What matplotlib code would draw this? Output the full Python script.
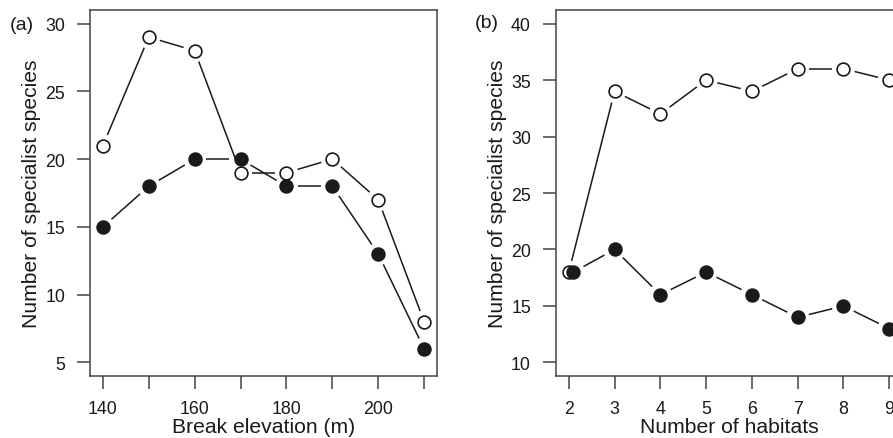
import numpy as np
import matplotlib
matplotlib.use("Agg")
import matplotlib.pyplot as plt

plt.rcParams["font.family"] = ["Liberation Sans", "DejaVu Sans"]

# panel (a) : break elevation
elevation = [140, 150, 160, 170, 180, 190, 200, 210]
a_open = [21, 29, 28, 19, 19, 20, 17, 8]
a_filled = [15, 18, 20, 20, 18, 18, 13, 6]

# panel (b) : number of habitats
habitats = [2, 3, 4, 5, 6, 7, 8, 9]
b_open = [18, 34, 32, 35, 34, 36, 36, 35]
b_filled = [18, 20, 16, 18, 16, 14, 15, 13]

INK = "#1a1a1a"
FRAME = "#444444"
GAP = 11.5   # pixels kept free around each point (R type="b")
MS = 9.2


def r_lim(lo, hi):
    pad = 0.04 * (hi - lo)
    return lo - pad, hi + pad


def type_b(ax, x, y, filled, z):
    """line with gaps around the points, like R plot(type='b')"""
    pts = ax.transData.transform(np.column_stack([x, y]))
    inv = ax.transData.inverted()
    for p, q in zip(pts[:-1], pts[1:]):
        d = q - p
        L = np.hypot(*d)
        if L <= 2 * GAP:
            continue
        u = d / L
        seg = inv.transform(np.array([p + u * GAP, q - u * GAP]))
        ax.plot(seg[:, 0], seg[:, 1], color=INK, lw=1.1, zorder=z,
                solid_capstyle="butt")
    ax.plot(x, y, ls="none", marker="o", ms=MS, mew=1.2, mec=INK,
            mfc=INK if filled else "white", zorder=z + 1)


def style(ax):
    for s in ax.spines.values():
        s.set_color(FRAME)
        s.set_linewidth(1.1)
    ax.tick_params(direction="out", length=9.5, width=1.1, color=FRAME,
                   labelsize=12.8, labelcolor=INK, pad=8.5)
    ax.tick_params(axis="x", pad=7.5)


fig = plt.figure(figsize=(8.93, 4.39), dpi=100)
ax1 = fig.add_axes([0.1008, 0.1412, 0.3886, 0.8337])
ax2 = fig.add_axes([0.6226, 0.1412, 0.3875, 0.8337])

ax1.set_xlim(*r_lim(140, 210))
ax1.set_ylim(*r_lim(5, 30))
ax1.set_xticks([140, 150, 160, 170, 180, 190, 200, 210])
ax1.set_xticklabels(["140", "", "160", "", "180", "", "200", ""])
ax1.set_yticks([5, 10, 15, 20, 25, 30])

ax2.set_xlim(*r_lim(2, 9))
ax2.set_ylim(*r_lim(10, 40))
ax2.set_xticks(habitats)
ax2.set_yticks([10, 15, 20, 25, 30, 35, 40])

for ax in (ax1, ax2):
    style(ax)
    ax.set_ylabel("Number of specialist species", fontsize=15.2,
                  color=INK, labelpad=3)

ax1.set_xlabel("Break elevation (m)", fontsize=15.2, color=INK, labelpad=0)
ax2.set_xlabel("Number of habitats", fontsize=15.2, color=INK, labelpad=0)

type_b(ax1, elevation, a_open, False, 2)
type_b(ax1, elevation, a_filled, True, 4)

# the two points at 2 habitats coincide; the filled one is nudged right
nudge = [0.1] + [0] * (len(habitats) - 1)
type_b(ax2, habitats, b_open, False, 2)
type_b(ax2, np.add(habitats, nudge), b_filled, True, 4)

fig.text(10 / 893, 1 - 25 / 439, "(a)", fontsize=14, color=INK, va="center")
fig.text(475 / 893, 1 - 24 / 439, "(b)", fontsize=14, color=INK, va="center")

fig.savefig("out.png", dpi=100)
